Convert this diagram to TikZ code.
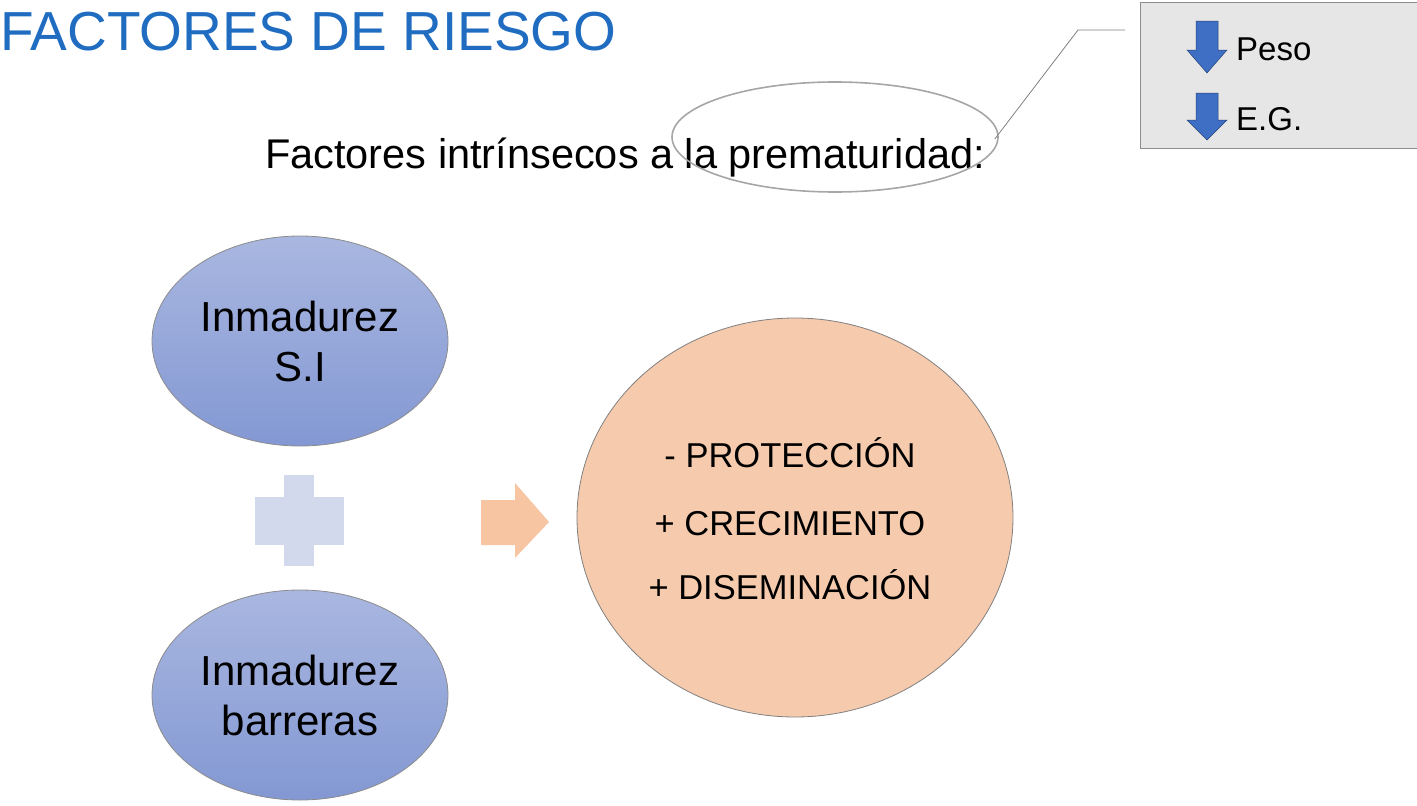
\documentclass[tikz,border=0pt]{standalone}
\usepackage{fontspec}
\setmainfont{Liberation Sans}
\usetikzlibrary{shapes.geometric}
\definecolor{titleblue}{HTML}{1F6CC0}
\definecolor{elltop}{HTML}{A9B7E0}
\definecolor{ellbot}{HTML}{8398D3}
\definecolor{plusc}{HTML}{D3D9EC}
\definecolor{peach}{HTML}{F6CBAD}
\definecolor{arrowpeach}{HTML}{F7C5A2}
\definecolor{boxgray}{HTML}{E6E6E6}
\definecolor{downblue}{HTML}{3F6FC4}
\tikzset{
  blueell/.style={ellipse, draw=black!45, line width=0.8pt, top color=elltop, bottom color=ellbot, minimum width=296pt, minimum height=210pt, align=center, font=\fontsize{42}{50}\selectfont, inner sep=0pt},
  lbl/.style={font=\fontsize{41.5}{48}\selectfont, inner sep=0pt},
  circlbl/.style={font=\fontsize{34.5}{40}\selectfont, inner sep=0pt, anchor=base},
  dnfill/.style={fill=downblue, draw=downblue!60!black, line width=0.5pt},
}
\begin{document}
\begin{tikzpicture}[x=1pt,y=-1pt]
\useasboundingbox (0,0) rectangle (1417,806);
% title
\node[anchor=base west, inner sep=0pt, text=titleblue, font=\fontsize{55}{62}\selectfont] (title) at (0,50) {FACTORES DE RIESGO};
% subtitle
\node[anchor=base west, lbl] (sub) at (265,168) {Factores intrínsecos a la prematuridad:};
% gray ellipse
\node[ellipse, draw=black!35, line width=1.6pt, minimum width=326pt, minimum height=110pt] (hl) at (835,137) {};
% callout box
\node[draw=black!45, fill=boxgray, line width=0.8pt, minimum width=277pt, minimum height=146pt, inner sep=0pt] (box) at (1278.5,75) {};
\coordinate (bend) at (1078,30);
\coordinate (bend2) at (1125,30);
\draw[black!50, line width=0.8pt] (hl.east) ++(-4,2) -- (bend) -- (bend2);
% down arrows
\draw[dnfill] (1196,21) -- (1218,21) -- (1218,50) -- (1227,50) -- (1207,73) -- (1187,50) -- (1196,50) -- cycle;
\draw[dnfill] (1196,93) -- (1218,93) -- (1218,120) -- (1227,120) -- (1207,140) -- (1187,120) -- (1196,120) -- cycle;
\node[inner sep=0pt] (a1) at (1207,47) {};
\node[inner sep=0pt] (a2) at (1207,116) {};
\node[anchor=base west, inner sep=0pt, font=\fontsize{33}{38}\selectfont] (peso) at (1236,60) {Peso};
\node[anchor=base west, inner sep=0pt, font=\fontsize{33}{38}\selectfont] (eg) at (1236,130) {E.G.};
% blue ellipses
\node[blueell] (e1) at (300,341) {Inmadurez\\S.I};
\node[blueell] (e2) at (300,695) {Inmadurez\\barreras};
% plus
\fill[plusc] (255,497) rectangle (344,545);
\fill[plusc] (284,475) rectangle (314,566);
\node[inner sep=0pt] (plus) at (300,520) {};
% right arrow
\fill[arrowpeach] (481,500) -- (515,500) -- (515,483) -- (549,522) -- (515,558) -- (515,545) -- (481,545) -- cycle;
\node[inner sep=0pt] (arr) at (515,522) {};
% big ellipse
\node[ellipse, draw=black!50, line width=0.8pt, fill=peach, minimum width=436pt, minimum height=399pt, inner sep=0pt] (big) at (795,517.5) {};
\node[circlbl] (t1) at (790,467) {- PROTECCIÓN};
\node[circlbl] (t2) at (790,535) {+ CRECIMIENTO};
\node[circlbl] (t3) at (790,599) {+ DISEMINACIÓN};
\end{tikzpicture}
\end{document}
